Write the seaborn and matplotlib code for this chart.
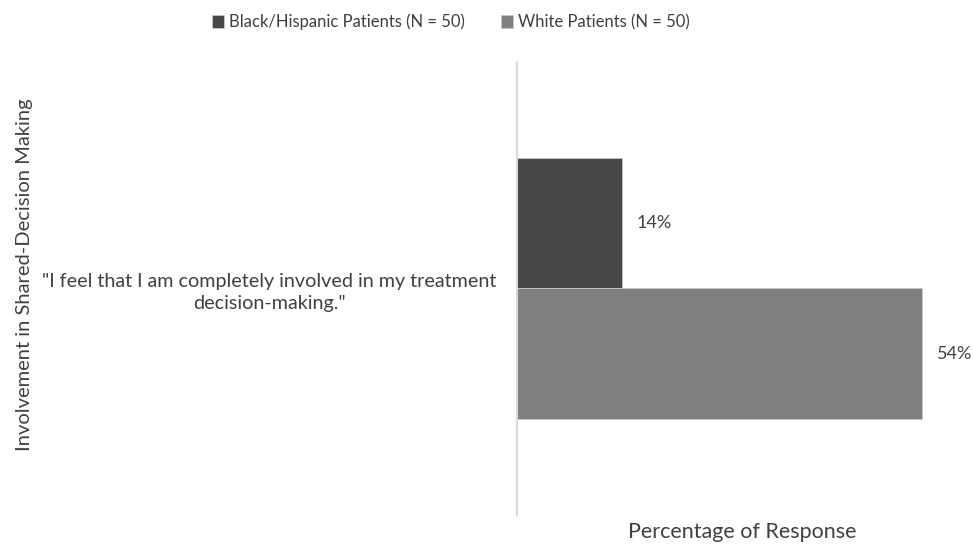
import matplotlib
matplotlib.use("Agg")
import matplotlib.pyplot as plt
import seaborn as sns
import pandas as pd

categories = ['"I feel that I am completely involved in my treatment\ndecision-making."']
series_names = ["Black/Hispanic Patients (N = 50)", "White Patients (N = 50)"]
black_hispanic = [14]
white = [54]

rows = []
for i, c in enumerate(categories):
    rows.append({"cat": c, "group": series_names[0], "pct": black_hispanic[i]})
    rows.append({"cat": c, "group": series_names[1], "pct": white[i]})
df = pd.DataFrame(rows)

sns.set_theme(style="white")
plt.rcParams["font.family"] = ["Lato", "DejaVu Sans"]
text_color = "#404040"

fig = plt.figure(figsize=(9.74, 5.44), dpi=100)
ax_w, ax_h = 967 - 517, 515 - 62
ax = fig.add_axes([517/974, 1 - 515/544, ax_w/974, ax_h/544])

sns.barplot(data=df, y="cat", x="pct", hue="group", orient="h",
            palette=["#484848", "#7f7f7f"], width=0.574, ax=ax,
            edgecolor="#c8c8c8", linewidth=0.6, legend=True)

ax.set_xlim(0, 60)
ax.set_ylim(0.5, -0.5)
ax.set_xticks([])
ax.tick_params(axis="y", length=0, pad=14.5, labelsize=14.2, labelcolor=text_color)
for t in ax.get_yticklabels():
    t.set_multialignment("center")
    t.set_linespacing(1.35)
for s in ["top", "right", "bottom"]:
    ax.spines[s].set_visible(False)
ax.spines["left"].set_color("#d9d9d9")
ax.spines["left"].set_linewidth(1.5)

for cont in ax.containers:
    ax.bar_label(cont, fmt="%d%%", padding=10.5, fontsize=13, color=text_color)

ax.set_xlabel("Percentage of Response", fontsize=15.5, color=text_color)
ax.xaxis.set_label_coords(0.5, -(522 - 515)/ax_h)
ax.set_ylabel("Involvement in Shared-Decision Making", fontsize=14.5, color=text_color)
ax.yaxis.set_label_coords(-(517 - 33)/ax_w, (515 - 275)/ax_h)

handles, labels = ax.get_legend_handles_labels()
ax.legend_.remove()
fig.legend(handles, labels, loc="center", bbox_to_anchor=(451/974, 1 - 22/544),
           ncol=2, frameon=False, fontsize=12, handlelength=0.75, handleheight=0.75,
           handletextpad=0.3, columnspacing=2.15, labelcolor=text_color)

fig.savefig("out.png", dpi=100)
